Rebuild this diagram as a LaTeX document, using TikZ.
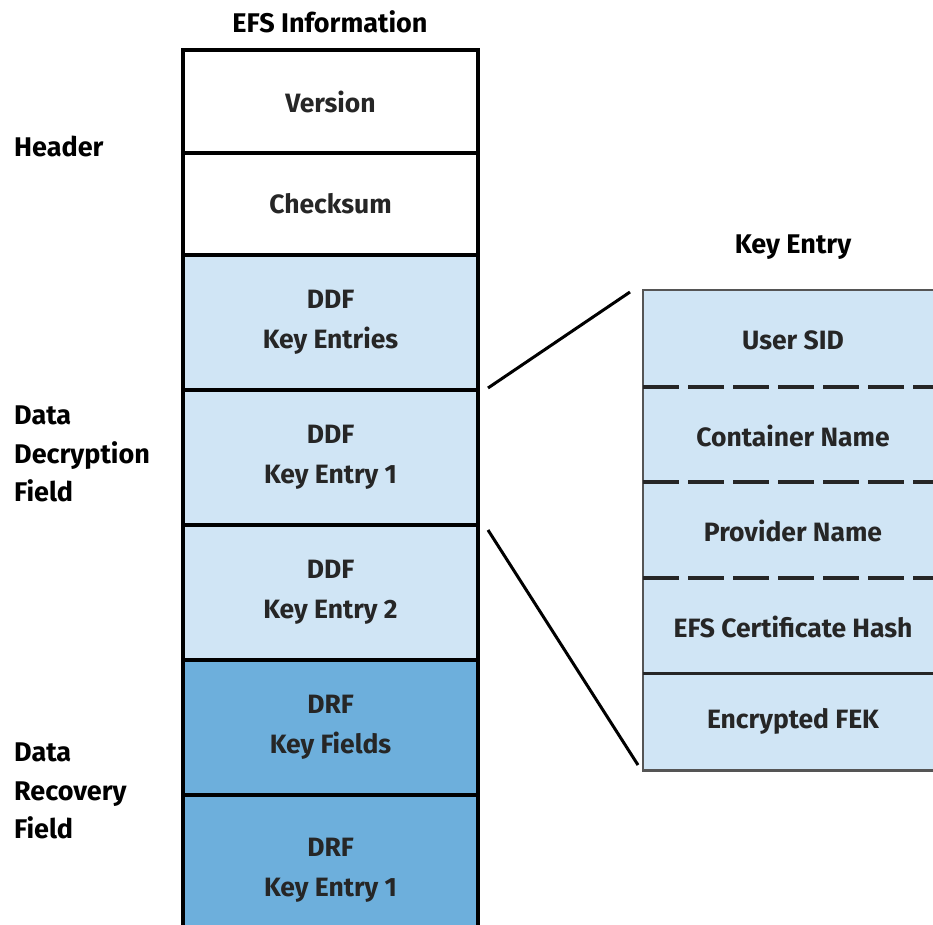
\documentclass[tikz,border=0pt]{standalone}
\usepackage{fontspec}
\setmainfont{Fira Sans}
\definecolor{lightblue}{HTML}{D0E5F5}
\definecolor{darkblue}{HTML}{6DAFDC}
\definecolor{edgegrey}{HTML}{555555}
\begin{document}
\begin{tikzpicture}[x=1pt,y=-1pt,
  cell/.style={draw=black, line width=3.5pt, minimum width=295pt, align=center,
    font=\fontsize{26.5}{40}\selectfont\bfseries, inner sep=0pt, text=black!85},
  kcell/.style={fill=lightblue, minimum width=300pt, anchor=north west, inner sep=0pt},
  ktext/.style={font=\fontsize{26.5}{40}\selectfont\bfseries, text=black!85, inner sep=0pt},
  side/.style={anchor=north west, align=left, font=\fontsize{27}{38.5}\selectfont\bfseries, inner sep=0pt},
  ttl/.style={font=\fontsize{27}{30}\selectfont\bfseries, inner sep=0pt},
  conn/.style={line width=3pt, black},
  sep/.style={line width=4pt, black!85, dash pattern=on 36pt off 9pt}]
\useasboundingbox (0,0) rectangle (933,924);
\clip (0,0) rectangle (933,924);
% left column
\node[cell, fill=white, minimum height=103pt] (ver) at (330.5,101.5) {Version};
\node[cell, fill=white, minimum height=102pt] (chk) at (330.5,204) {Checksum};
\node[cell, fill=lightblue, minimum height=135pt] (ddfk) at (330.5,322.5) {DDF\\Key Entries};
\node[cell, fill=lightblue, minimum height=135pt] (ddf1) at (330.5,457.5) {DDF\\Key Entry 1};
\node[cell, fill=lightblue, minimum height=135pt] (ddf2) at (330.5,592.5) {DDF\\Key Entry 2};
\node[cell, fill=darkblue, minimum height=135pt] (drfk) at (330.5,727.5) {DRF\\Key Fields};
\node[cell, fill=darkblue, minimum height=150pt] (drf1) at (330.5,870) {DRF\\Key Entry 1};
% titles
\node[ttl] (efs) at (330,22) {EFS Information};
\node[ttl] (kettl) at (793,247) {Key Entry};
% side labels
\node[side] (hdr) at (14,136) {Header};
\node[side] (ddflab) at (14,406) {Data\\Decryption\\Field};
\node[side] (drflab) at (14,743) {Data\\Recovery\\Field};
% key entry box
\node[kcell, minimum height=97pt] (sid) at (643,290) {};
\node[kcell, minimum height=95pt] (cont) at (643,387) {};
\node[kcell, minimum height=96pt] (prov) at (643,482) {};
\node[kcell, minimum height=95pt] (hash) at (643,578) {};
\node[kcell, minimum height=97pt] (fek) at (643,673) {};
\node[ktext] (t1) at (793,340) {User SID};
\node[ktext] (t2) at (793,436) {Container Name};
\node[ktext] (t3) at (793,531) {Provider Name};
\node[ktext] (t4) at (793,627) {EFS Certificate Hash};
\node[ktext] (t5) at (793,721) {Encrypted FEK};
\draw[edgegrey, line width=2.5pt] (sid.north east) -- (sid.north west) -- (fek.south west) -- (fek.south east);
\draw[sep] (sid.south west) -- (sid.south east);
\draw[sep] (cont.south west) -- (cont.south east);
\draw[sep] (prov.south west) -- (prov.south east);
\draw[line width=3pt, black!85] (hash.south west) -- (hash.south east);
% connectors
\coordinate (a1) at (488,388);
\coordinate (b1) at (630,292);
\coordinate (a2) at (488,530);
\coordinate (b2) at (638,765);
\draw[conn] (a1) -- (b1);
\draw[conn] (a2) -- (b2);
\end{tikzpicture}
\end{document}
